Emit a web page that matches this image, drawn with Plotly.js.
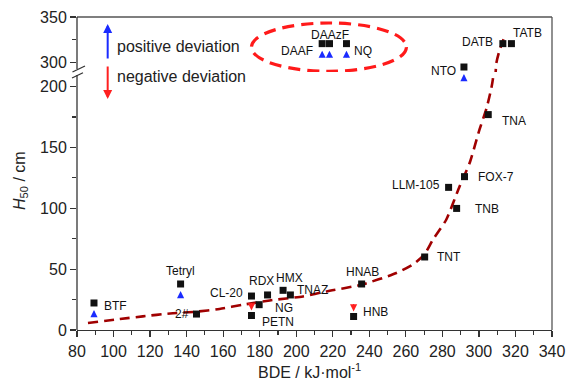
<!DOCTYPE html>
<html>
<head>
<meta charset="utf-8">
<script src="https://cdn.plot.ly/plotly-3.0.1.min.js"></script>
<style>html,body{margin:0;padding:0;background:#fff;}#chart{width:567px;height:381px;}</style>
</head>
<body>
<div id="chart"></div>
<script>
// ---- data ----
const names = ['BTF','Tetryl','2#','CL-20','PETN','NG','RDX','HMX','TNAZ','HNAB','HNB','TNT','TNB','LLM-105','FOX-7','TNA','DAAF','DAAzF','NQ','NTO','DATB','TATB'];
const bde   = [89.3, 136.7, 145.4, 175.5, 175.5, 179.7, 184.3, 192.8, 196.8, 235.8, 231.4, 270.3, 287.8, 283.4, 292.1, 305.1, 214.2, 218.2, 227.5, 291.8, 313.1, 317.8];
const h50   = [22.2, 37.8, 13.1, 27.9, 11.9, 20.8, 28.8, 32.6, 28.8, 37.8, 11.1, 60.0, 99.9, 117.2, 126.0, 177.0, 320.6, 320.6, 320.6, 294.8, 320.6, 320.6];
const positiveDeviation = ['BTF','Tetryl','DAAF','DAAzF','NQ','NTO'];
const negativeDeviation = ['PETN','HNB'];
// dashed fit curve
const fitBDE = [86, 103.5, 116, 131, 145, 158, 171, 185.5, 203.7, 216.5, 235.6, 254.8, 264.5, 270.1, 274.8, 282.1, 289.4, 294.9, 300.3, 304.3, 307.6, 309.5, 311.3, 313.5];
const fitH50 = [5.8, 9, 11.2, 13.6, 15, 17.3, 20.8, 24.3, 27.6, 31.7, 37.2, 46.8, 54.5, 61.9, 74.2, 90.6, 118, 137.2, 164.6, 183, 205.7, 298.6, 313.2, 325.4];
const lowerTicks = [0, 50, 100, 150, 200];
const upperTicks = [300, 350];

// ---- layout configuration (not data) ----
const lowerRange = [0, 212];
const upperRange = [289.3, 350];
const split = 0.8243;
const FONT = 'Liberation Sans, Arial, sans-serif';
const labelPlace = {
  'BTF':['left',8,-3], 'Tetryl':['center',0,13], '2#':['right',-5,0], 'CL-20':['right',-6,3],
  'PETN':['left',9,-6], 'NG':['left',14,-3], 'RDX':['center',-6,14], 'HMX':['center',6,12],
  'TNAZ':['left',5,5], 'HNAB':['center',1,12], 'HNB':['left',7,4], 'TNT':['left',10,0],
  'TNB':['left',16,-1], 'LLM-105':['right',-7,2], 'FOX-7':['left',12,0], 'TNA':['left',12,-6],
  'DATB':['right',-8,2], 'TATB':['left',0,11], 'NTO':['right',-6,-4], 'DAAF':['right',-7,-7],
  'DAAzF':['center',1,9], 'NQ':['left',6,-7]
};

const isUpper = v => v >= upperRange[0];
const lowIdx = h50.map((v,i)=>i).filter(i=>!isUpper(h50[i]));
const upIdx  = h50.map((v,i)=>i).filter(i=>isUpper(h50[i]));

const fitLine = {color:'#a00000', width:2.6, dash:'10px,6px', shape:'spline', smoothing:0.6};
const mk = {symbol:'square', size:7, color:'#111'};
const traces = [
  {x:fitBDE, y:fitH50, yaxis:'y', mode:'lines', line:fitLine, hoverinfo:'skip'},
  {x:fitBDE, y:fitH50, yaxis:'y2', mode:'lines', line:fitLine, hoverinfo:'skip'},
  {x:lowIdx.map(i=>bde[i]), y:lowIdx.map(i=>h50[i]), yaxis:'y', mode:'markers', marker:mk},
  {x:upIdx.map(i=>bde[i]), y:upIdx.map(i=>h50[i]), yaxis:'y2', mode:'markers', marker:mk}
];

const annotations = [];
names.forEach((n,i)=>{
  const p = labelPlace[n];
  annotations.push({x:bde[i], y:h50[i], xref:'x', yref: isUpper(h50[i]) ? 'y2':'y',
    text:n, showarrow:false, xanchor:p[0], yanchor:'middle', xshift:p[1], yshift:p[2],
    font:{family:FONT, size:12, color:'#111'}});
});
positiveDeviation.forEach(n=>{
  const i = names.indexOf(n);
  annotations.push({x:bde[i], y:h50[i], xref:'x', yref: isUpper(h50[i]) ? 'y2':'y',
    text:'', showarrow:true, ax:0, ay:15, standoff:7, arrowhead:2, arrowsize:1.3, arrowwidth:1.1, arrowcolor:'#1a2bff'});
});
negativeDeviation.forEach(n=>{
  const i = names.indexOf(n);
  annotations.push({x:bde[i], y:h50[i], xref:'x', yref: isUpper(h50[i]) ? 'y2':'y',
    text:'', showarrow:true, ax:0, ay:-14, standoff:5, arrowhead:2, arrowsize:1.3, arrowwidth:1.1, arrowcolor:'#ff2020'});
});
// legend arrows & text
annotations.push({xref:'paper', yref:'paper', x:0.0646, y:0.9776, text:'', showarrow:true, ax:0, ay:36,
  arrowhead:2, arrowsize:0.9, arrowwidth:2, arrowcolor:'#1a2bff'});
annotations.push({xref:'paper', yref:'paper', x:0.0646, y:0.738, text:'', showarrow:true, ax:0, ay:-34,
  arrowhead:2, arrowsize:0.9, arrowwidth:2, arrowcolor:'#ff2020'});
annotations.push({xref:'paper', yref:'paper', x:0.08, y:0.905, xanchor:'left', yanchor:'middle', text:'positive deviation',
  showarrow:false, font:{family:FONT, size:16, color:'#222'}});
annotations.push({xref:'paper', yref:'paper', x:0.08, y:0.8115, xanchor:'left', yanchor:'middle', text:'negative deviation',
  showarrow:false, font:{family:FONT, size:16, color:'#222'}});
// axis titles
annotations.push({xref:'paper', yref:'paper', x:0.49, y:0, yanchor:'middle', yshift:-41, showarrow:false,
  text:'BDE / kJ·mol<sup>-1</sup>', font:{family:FONT, size:16, color:'#222'}});
annotations.push({xref:'paper', yref:'paper', x:0, y:0.476, xshift:-57, xanchor:'center', yanchor:'middle', textangle:-90, showarrow:false,
  text:'<i>H</i><sub>50</sub> / cm', font:{family:FONT, size:16, color:'#222'}});

const axCol = '#333';
const shapes = [
  // frame top and right
  {type:'line', xref:'paper', yref:'paper', x0:0, x1:1, y0:1, y1:1, line:{color:'#555', width:1.3}},
  {type:'line', xref:'paper', yref:'paper', x0:1, x1:1, y0:0, y1:1, line:{color:'#555', width:1.3}},
  // left axis with break
  {type:'line', xref:'paper', yref:'paper', x0:0, x1:0, y0:0, y1:0.8147, line:{color:axCol, width:1.3}},
  {type:'line', xref:'paper', yref:'paper', x0:0, x1:0, y0:0.8339, y1:1, line:{color:axCol, width:1.3}},
  {type:'line', xref:'paper', yref:'paper', x0:-0.0095, x1:0.0168, y0:0.8243, y1:0.8435, line:{color:axCol, width:1.3}},
  {type:'line', xref:'paper', yref:'paper', x0:-0.0105, x1:0.0126, y0:0.8051, y1:0.822, line:{color:axCol, width:1.3}},
  // red dashed ellipse
  {type:'circle', xref:'x', yref:'y2', x0:175.5, x1:260.3, y0:290.1, y1:343.4, line:{color:'#ff1a1a', width:3.2, dash:'12px,7px'}}
];

const tickStyle = {ticks:'outside', ticklen:6, tickwidth:1.2, tickcolor:axCol, showgrid:false, zeroline:false,
  tickfont:{family:FONT, size:16, color:'#222'}};

const layout = {
  width:567, height:381,
  margin:{l:77, r:15, t:17, b:51},
  paper_bgcolor:'#fff', plot_bgcolor:'#fff',
  showlegend:false, hovermode:false,
  xaxis:Object.assign({range:[80,340], tick0:0, dtick:20, showline:true, linecolor:axCol, linewidth:1.3, anchor:'y',
    minor:{dtick:10, ticks:'outside', ticklen:4, tickcolor:axCol, tickwidth:1.1}}, tickStyle),
  yaxis:Object.assign({domain:[0, split], range:lowerRange, tickvals:lowerTicks, showline:false, anchor:'x',
    minor:{tickvals:[25,75,125,175], ticks:'outside', ticklen:4, tickcolor:axCol, tickwidth:1.1}}, tickStyle),
  yaxis2:Object.assign({domain:[split, 1], range:upperRange, tickvals:upperTicks, showline:false, anchor:'x',
    minor:{tickvals:[325], ticks:'outside', ticklen:4, tickcolor:axCol, tickwidth:1.1}}, tickStyle),
  annotations:annotations,
  shapes:shapes
};

Plotly.newPlot('chart', traces, layout, {staticPlot:true, displayModeBar:false});
</script>
</body>
</html>
